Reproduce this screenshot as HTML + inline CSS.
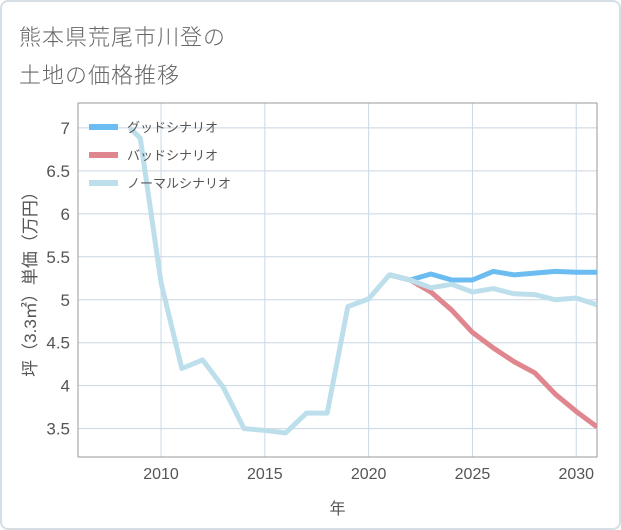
<!DOCTYPE html>
<html><head><meta charset="utf-8"><style>
html,body{margin:0;padding:0;background:#fff}
#wrap{position:relative;width:621px;height:530px;box-sizing:border-box;border:2px solid #d6dee6;border-radius:8px;overflow:hidden;font-family:"Liberation Sans","Noto Sans CJK JP",sans-serif}
.title{position:absolute;left:17px;font-size:22px;color:#666;letter-spacing:1px;font-weight:300}
</style></head><body>
<div id="wrap">
<div class="title" style="top:18px">熊本県荒尾市川登の</div>
<div class="title" style="top:56px">土地の価格推移</div>
<svg id="chart" width="621" height="530" style="position:absolute;left:-2px;top:-2px"></svg>
</div>
<script>
const yearsNormal=[2008.5,2009,2010,2011,2012,2013,2014,2015,2016,2017,2018,2019,2020,2021,2022,2023,2024,2025,2026,2027,2028,2029,2030,2031];
const valuesNormal=[7.0,6.88,5.2,4.2,4.3,3.98,3.5,3.48,3.45,3.68,3.68,4.92,5.01,5.29,5.23,5.14,5.18,5.09,5.13,5.07,5.06,5.0,5.02,4.94];
const yearsScenario=[2021,2022,2023,2024,2025,2026,2027,2028,2029,2030,2031];
const valuesGood=[5.29,5.23,5.30,5.23,5.23,5.33,5.29,5.31,5.33,5.32,5.32];
const valuesBad=[5.29,5.23,5.09,4.88,4.62,4.44,4.28,4.15,3.9,3.7,3.52];
const xTicks=[2010,2015,2020,2025,2030];
const yTicks=[3.5,4,4.5,5,5.5,6,6.5,7];
const yTickLabels=["3.5","4","4.5","5","5.5","6","6.5","7"];
const legendLabels=["グッドシナリオ","バッドシナリオ","ノーマルシナリオ"];
const legendColors=["#6bbcf0","#e0868e","#bddfec"];

const L=78,R=597,T=103,B=457,X0=2006,X1=2031,Y0=3.17,Y1=7.29;
const sx=v=>L+(v-X0)/(X1-X0)*(R-L);
const sy=v=>B-(v-Y0)/(Y1-Y0)*(B-T);
const svg=document.getElementById('chart');
const NS='http://www.w3.org/2000/svg';
function mk(t,a){const e=document.createElementNS(NS,t);for(const k in a)e.setAttribute(k,a[k]);svg.appendChild(e);return e;}
yTicks.forEach((v,i)=>{
  const g=mk('line',{x1:L,x2:R,y1:sy(v),y2:sy(v),stroke:'#c9d5e0','stroke-width':1});
  
  
  const t=mk('text',{x:L-8,y:sy(v)+6,'text-anchor':'end','font-size':17,fill:'#555'});
  t.textContent=yTickLabels[i];
  
  
});
xTicks.forEach(v=>{
  const g=mk('line',{x1:sx(v),x2:sx(v),y1:T,y2:B,stroke:'#c9d9e8','stroke-width':1});
  
  
  const t=mk('text',{x:sx(v),y:B+22,'text-anchor':'middle','font-size':16,fill:'#555'});
  t.textContent=v;
  
  
});
const frame=mk('rect',{x:L,y:T,width:R-L,height:B-T,fill:'none',stroke:'#999','stroke-width':1});


const defs=mk('defs',{});
const cp=document.createElementNS(NS,'clipPath');cp.setAttribute('id','clip');
const cr=document.createElementNS(NS,'rect');cr.setAttribute('x',L);cr.setAttribute('y',T);cr.setAttribute('width',R-L);cr.setAttribute('height',B-T);
cp.appendChild(cr);defs.appendChild(cp);
function line(xs,ys,color,name){
  const p=mk('polyline',{points:xs.map((x,i)=>sx(x)+','+sy(ys[i])).join(' '),fill:'none',stroke:color,'stroke-width':5,'stroke-linejoin':'round','clip-path':'url(#clip)'});
  
  
}
line(yearsScenario,valuesBad,legendColors[1],'bad-scenario-line');
line(yearsScenario,valuesGood,legendColors[0],'good-scenario-line');
line(yearsNormal,valuesNormal,legendColors[2],'normal-scenario-line');
legendLabels.forEach((lab,i)=>{
  const y=127+i*28;
  const s=mk('rect',{x:89,y:y-3,width:29,height:6,fill:legendColors[i]});
  
  
  const t=mk('text',{x:127,y:y+5,'font-size':13,fill:'#555'});
  t.textContent=lab;
  
  
});
const xt=mk('text',{x:(L+R)/2,y:514,'text-anchor':'middle','font-size':16,fill:'#555'});
xt.textContent='年';


const yt=mk('text',{x:0,y:0,'text-anchor':'middle','font-size':17,fill:'#555',transform:'translate(36,'+((T+B)/2)+') rotate(-90)'});
yt.textContent='坪（3.3㎡）単価（万円）';


</script>
</body></html>
